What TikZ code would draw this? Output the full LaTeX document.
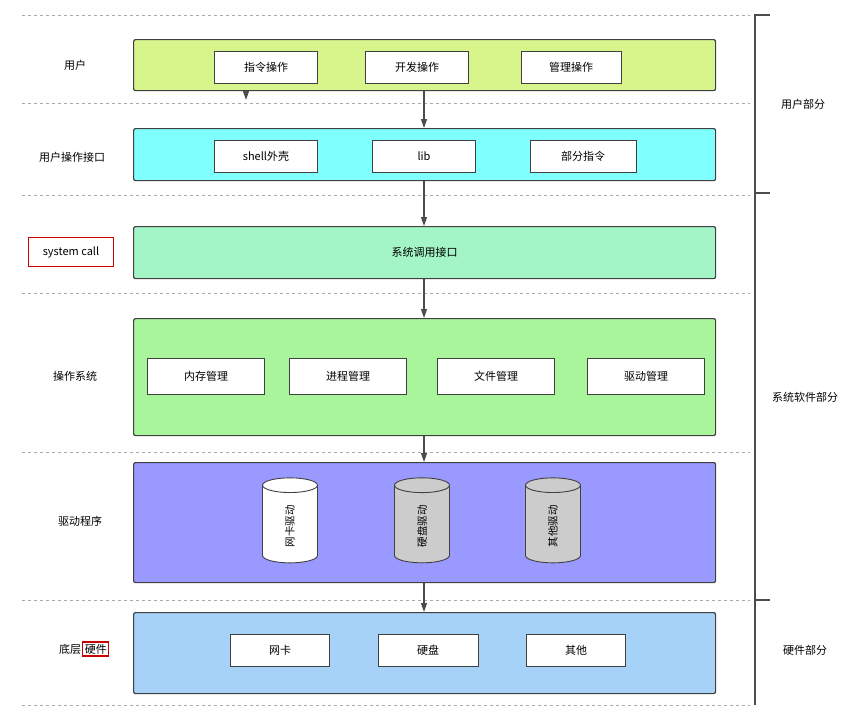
\documentclass[tikz,border=0pt]{standalone}
\usepackage{fontspec}
\setmainfont{Noto Sans CJK SC}
\usetikzlibrary{positioning}
\usetikzlibrary{arrows.meta,shapes.geometric}
\definecolor{limeL}{HTML}{D8F58C}
\definecolor{cyanL}{HTML}{80FFFF}
\definecolor{mintL}{HTML}{A3F5C8}
\definecolor{greenL}{HTML}{A8F59C}
\definecolor{violetL}{HTML}{9999FF}
\definecolor{blueL}{HTML}{A6D2F7}
\definecolor{gridL}{HTML}{AAAAAA}
\tikzset{
  layer/.style={draw=black!75,line width=1.2pt,rounded corners=2pt,minimum width=582pt,anchor=north west},
  item/.style={draw=black!75,line width=1pt,fill=white,minimum height=32pt,font=\fontsize{11}{13}\selectfont},
  side/.style={font=\fontsize{11}{13}\selectfont},
  drv/.style={shape=cylinder,rotate=90,draw=black!75,line width=0.9pt,aspect=0.9,minimum width=55pt,minimum height=85pt,inner xsep=2pt,font=\fontsize{10.5}{12}\selectfont},
  sep/.style={gridL,dashed,line width=0.6pt},
  flow/.style={-{Triangle[length=9pt,width=6pt]},black!70,line width=1.2pt},
}
\begin{document}
\begin{tikzpicture}[x=1pt,y=-1pt]
\useasboundingbox (0,0) rectangle (859,718);
% dashed rows
\foreach \yy in {15,103,195,293,452,600,705}
  \draw[sep] (22,\yy) -- (750,\yy);
% layers
\node[layer,fill=limeL,minimum height=51pt] (user) at (133,39) {};
\node[layer,fill=cyanL,minimum height=52pt] (ui) at (133,128) {};
\node[layer,fill=mintL,minimum height=52pt,font=\fontsize{11}{13}\selectfont] (sys) at (133,226) {系统调用接口};
\node[layer,fill=greenL,minimum height=117pt] (os) at (133,318) {};
\node[layer,fill=violetL,minimum height=120pt] (drvl) at (133,462) {};
\node[layer,fill=blueL,minimum height=81pt] (hw) at (133,612) {};
% items
\node[item,minimum width=103pt] (cmd) at (266,67) {指令操作};
\node[item,minimum width=103pt,right=47pt of cmd] (dev) {开发操作};
\node[item,minimum width=100pt] (mgr) at (571,67) {管理操作};
\node[item,minimum width=103pt] (shell) at (266,156) {shell外壳};
\node[item,minimum width=103pt] (lib) at (424,156) {lib};
\node[item,minimum width=106pt] (part) at (583,156) {部分指令};
\node[item,minimum width=117pt,minimum height=36pt] (mem) at (206,376) {内存管理};
\node[item,minimum width=117pt,minimum height=36pt,right=24pt of mem] (proc) {进程管理};
\node[item,minimum width=117pt,minimum height=36pt,right=30pt of proc] (file) {文件管理};
\node[item,minimum width=117pt,minimum height=36pt,right=32pt of file] (drvm) {驱动管理};
\node[drv,fill=white] (nicd) at (290,526) {网卡驱动};
\node[drv,fill=black!20] (hdd) at (422,526) {硬盘驱动};
\node[drv,fill=black!20] (othd) at (553,526) {其他驱动};
\node[item,minimum width=99pt] (nic) at (280,650) {网卡};
\node[item,minimum width=100pt] (disk) at (428,650) {硬盘};
\node[item,minimum width=99pt] (oth) at (576,650) {其他};
% left labels
\node[side] (l1) at (75,65) {用户};
\node[side] (l2) at (72,157) {用户操作接口};
\node[side,draw=red!80!black,line width=1.2pt,inner sep=3pt,minimum width=85pt,minimum height=29pt] (l3) at (71,252) {system call};
\node[side] (l4) at (75,376) {操作系统};
\node[side] (l5) at (80,521) {驱动程序};
\node[side,inner xsep=0pt] (l6) at (70,649) {底层};
\node[side,draw=red!80!black,line width=1.2pt,inner sep=2pt,right=1pt of l6] (l6b) {硬件};
% arrows
\draw[flow] (user.south -| lib) -- (ui.north -| lib);
\draw[flow] (ui.south -| lib) -- (sys.north -| lib);
\draw[flow] (sys.south -| lib) -- (os.north -| lib);
\draw[flow] (os.south -| lib) -- (drvl.north -| lib);
\draw[flow] (drvl.south -| lib) -- (hw.north -| lib);
\coordinate (stub) at (246,100);
\draw[flow] (user.south -| stub) -- (stub);
% brackets
\coordinate (b0) at (755,15);
\coordinate (b1) at (755,193);
\coordinate (b2) at (755,600);
\coordinate (b3) at (755,705);
\draw[black!70,line width=1.2pt] ([xshift=15pt]b0) -- (b0) -- (b1) -- ([xshift=15pt]b1);
\draw[black!70,line width=1.2pt] ([xshift=15pt]b1) -- (b1) -- (b2) -- ([xshift=15pt]b2);
\draw[black!70,line width=1.2pt] (b2) -- (b3);
\node[side] (g1) at (803,104) {用户部分};
\node[side] (g2) at (805,397) {系统软件部分};
\node[side] (g3) at (805,650) {硬件部分};
\end{tikzpicture}
\end{document}
